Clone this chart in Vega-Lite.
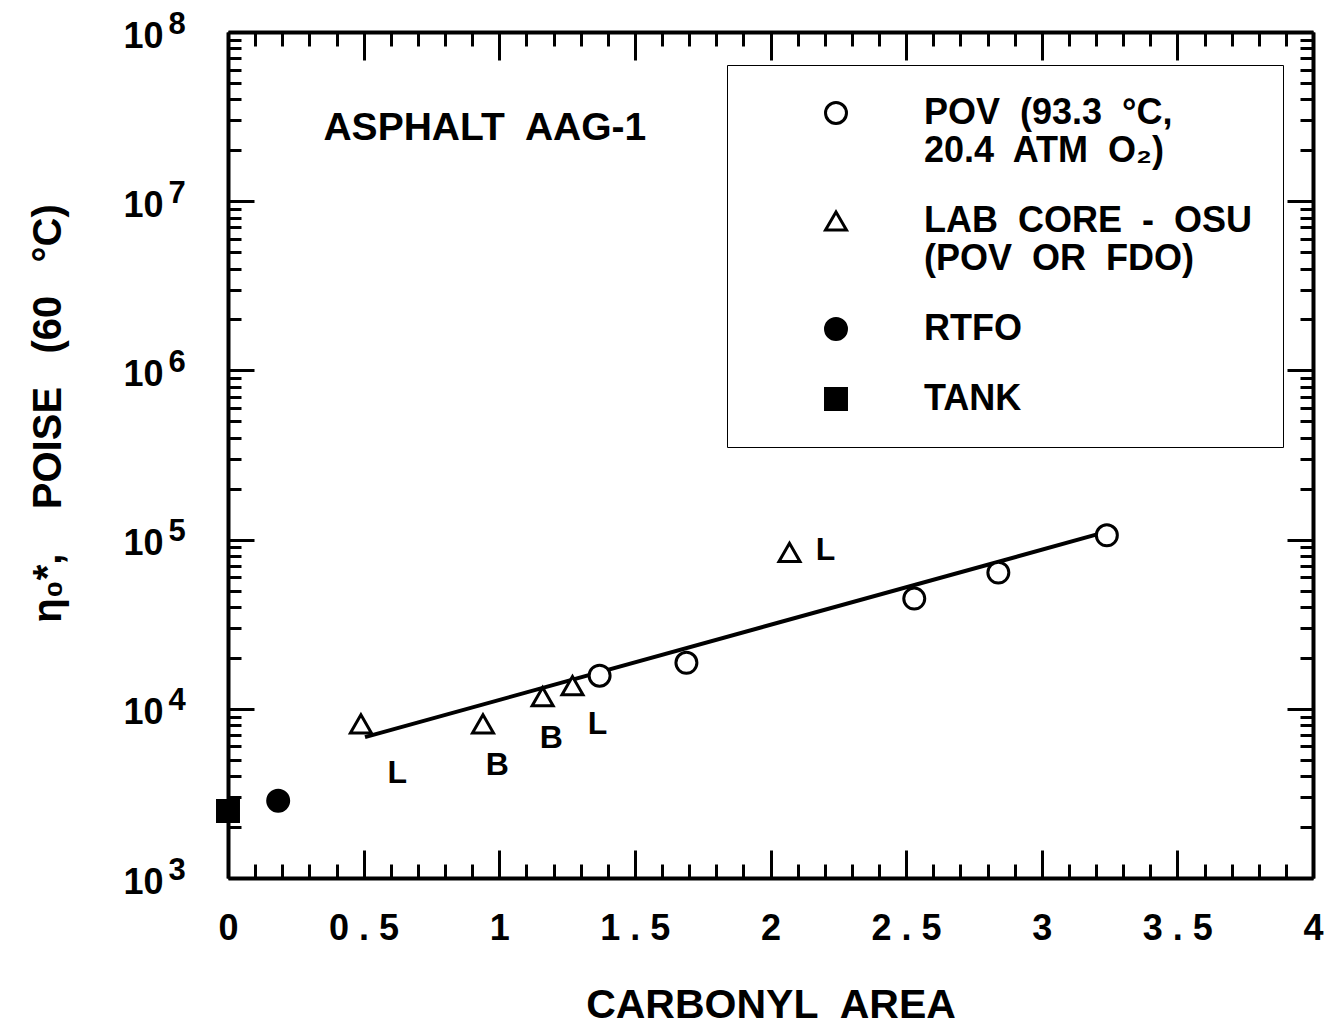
{
  "$schema": "https://vega.github.io/schema/vega-lite/v6.json",
  "width": 1085,
  "height": 846,
  "autosize": {"type": "none"},
  "padding": {"left": 228, "top": 32, "right": 19, "bottom": 148},
  "background": "white",
  "config": {"view": {"stroke": null}, "font": "Liberation Sans"},
  "datasets": {
    "points": [
      {"series": "POV", "carbonyl": 1.37, "viscosity": 15700},
      {"series": "POV", "carbonyl": 1.69, "viscosity": 18700},
      {"series": "POV", "carbonyl": 2.53, "viscosity": 44800},
      {"series": "POV", "carbonyl": 2.84, "viscosity": 63800},
      {"series": "POV", "carbonyl": 3.24, "viscosity": 106000},
      {"series": "LAB", "carbonyl": 0.49, "viscosity": 8150},
      {"series": "LAB", "carbonyl": 0.94, "viscosity": 8150},
      {"series": "LAB", "carbonyl": 1.16, "viscosity": 11800},
      {"series": "LAB", "carbonyl": 1.27, "viscosity": 13700},
      {"series": "LAB", "carbonyl": 2.07, "viscosity": 84000},
      {"series": "RTFO", "carbonyl": 0.185, "viscosity": 2860},
      {"series": "TANK", "carbonyl": 0.0, "viscosity": 2490}
    ],
    "fit": [
      {"carbonyl": 0.505, "viscosity": 6800},
      {"carbonyl": 3.237, "viscosity": 111000}
    ],
    "labels": [
      {"label": "L", "carbonyl": 0.624, "viscosity": 4180},
      {"label": "B", "carbonyl": 0.993, "viscosity": 4660},
      {"label": "B", "carbonyl": 1.192, "viscosity": 6740},
      {"label": "L", "carbonyl": 1.362, "viscosity": 8150},
      {"label": "L", "carbonyl": 2.203, "viscosity": 87300}
    ],
    "note": [
      {"label": "ASPHALT\u00a0 AAG-1", "carbonyl": 0.947, "viscosity": 27100000}
    ]
  },
  "layer": [
    {
      "data": {"name": "fit"},
      "mark": {"type": "line", "color": "black", "strokeWidth": 4},
      "encoding": {
        "x": {
          "field": "carbonyl", "type": "quantitative",
          "scale": {"domain": [0, 4], "nice": false, "zero": false},
          "axis": {
            "orient": "top", "title": null, "labels": false, "grid": false,
            "values": [0,0.1,0.2,0.3,0.4,0.5,0.6,0.7,0.8,0.9,1,1.1,1.2,1.3,1.4,1.5,1.6,1.7,1.8,1.9,2,2.1,2.2,2.3,2.4,2.5,2.6,2.7,2.8,2.9,3,3.1,3.2,3.3,3.4,3.5,3.6,3.7,3.8,3.9,4],
            "domainWidth": 4, "domainColor": "black", "tickColor": "black", "tickWidth": 3,
            "tickSize": {"condition": {"test": "abs(datum.value*2-round(datum.value*2))<1e-6", "value": -28}, "value": -14}
          }
        },
        "y": {
          "field": "viscosity", "type": "quantitative",
          "scale": {"type": "log", "domain": [1000, 100000000], "nice": false},
          "axis": {
            "orient": "right", "title": null, "labels": false, "grid": false,
            "values": [1000,2000,3000,4000,5000,6000,7000,8000,9000,10000,20000,30000,40000,50000,60000,70000,80000,90000,100000,200000,300000,400000,500000,600000,700000,800000,900000,1000000,2000000,3000000,4000000,5000000,6000000,7000000,8000000,9000000,10000000,20000000,30000000,40000000,50000000,60000000,70000000,80000000,90000000,100000000],
            "domainWidth": 4, "domainColor": "black", "tickColor": "black", "tickWidth": 3,
            "tickSize": {"condition": {"test": "abs(log(datum.value)/LN10-round(log(datum.value)/LN10))<1e-6", "value": -26}, "value": -13}
          }
        }
      }
    },
    {
      "data": {"name": "points"},
      "mark": {"type": "point", "strokeWidth": 3, "size": 440, "opacity": 1},
      "encoding": {
        "x": {
          "field": "carbonyl", "type": "quantitative",
          "axis": {
            "orient": "bottom", "grid": false,
            "values": [0,0.1,0.2,0.3,0.4,0.5,0.6,0.7,0.8,0.9,1,1.1,1.2,1.3,1.4,1.5,1.6,1.7,1.8,1.9,2,2.1,2.2,2.3,2.4,2.5,2.6,2.7,2.8,2.9,3,3.1,3.2,3.3,3.4,3.5,3.6,3.7,3.8,3.9,4],
            "domainWidth": 4, "domainColor": "black", "tickColor": "black", "tickWidth": 3,
            "tickSize": {"condition": {"test": "abs(datum.value*2-round(datum.value*2))<1e-6", "value": -28}, "value": -14},
            "labelExpr": "abs(datum.value*2-round(datum.value*2))<1e-6 ? replace(toString(datum.value), '.', ' . ') : ''",
            "labelFont": "Liberation Sans", "labelFontSize": 36, "labelFontWeight": "bold", "labelColor": "black",
            "labelPadding": 61, "labelFlush": false, "labelOverlap": false, "labelBound": false,
            "title": "CARBONYL\u00a0 AREA", "titleFont": "Liberation Sans", "titleFontSize": 41, "titleFontWeight": "bold", "titleColor": "black", "titlePadding": 25
          }
        },
        "y": {
          "field": "viscosity", "type": "quantitative",
          "axis": {
            "orient": "left", "grid": false,
            "values": [1000,2000,3000,4000,5000,6000,7000,8000,9000,10000,20000,30000,40000,50000,60000,70000,80000,90000,100000,200000,300000,400000,500000,600000,700000,800000,900000,1000000,2000000,3000000,4000000,5000000,6000000,7000000,8000000,9000000,10000000,20000000,30000000,40000000,50000000,60000000,70000000,80000000,90000000,100000000],
            "domainWidth": 4, "domainColor": "black", "tickColor": "black", "tickWidth": 3,
            "tickSize": {"condition": {"test": "abs(log(datum.value)/LN10-round(log(datum.value)/LN10))<1e-6", "value": -26}, "value": -13},
            "labelExpr": "abs(log(datum.value)/LN10-round(log(datum.value)/LN10))<1e-6 ? '10' : ''",
            "labelFont": "Liberation Sans", "labelFontSize": 36, "labelFontWeight": "bold", "labelColor": "black",
            "labelPadding": 91, "labelOffset": 4, "labelOverlap": false, "labelBound": false, "labelFlush": false,
            "title": "η₀*,\u00a0\u00a0\u00a0 POISE\u00a0\u00a0 (60\u00a0\u00a0 °C)", "titleFont": "Liberation Sans", "titleFontSize": 40, "titleFontWeight": "bold", "titleColor": "black", "titlePadding": 54,
            "titleY": 381
          }
        },
        "shape": {
          "field": "series", "type": "nominal",
          "scale": {"domain": ["POV", "LAB", "RTFO", "TANK"], "range": ["circle", "triangle-up", "circle", "square"]},
          "legend": {
            "orient": "none", "legendX": 499, "legendY": 33, "title": null,
            "strokeColor": "black", "padding": 30,
            "symbolOffset": 61, "labelOffset": 70, "symbolSize": 440, "symbolStrokeWidth": 3,
            "labelFont": "Liberation Sans", "labelFontSize": 36, "labelFontWeight": "bold", "labelColor": "black",
            "labelLimit": 600, "rowPadding": 34,
            "labelExpr": "datum.value == 'POV' ? ['POV\u00a0 (93.3\u00a0 °C,', '20.4\u00a0 ATM\u00a0 O₂)'] : datum.value == 'LAB' ? ['LAB\u00a0 CORE\u00a0 -\u00a0 OSU', '(POV\u00a0 OR\u00a0 FDO)'] : datum.value"
          }
        },
        "fill": {
          "field": "series", "type": "nominal",
          "scale": {"domain": ["POV", "LAB", "RTFO", "TANK"], "range": ["white", "white", "black", "black"]},
          "legend": {
            "orient": "none", "legendX": 499, "legendY": 33, "title": null,
            "strokeColor": "black", "padding": 30,
            "symbolOffset": 61, "labelOffset": 70, "symbolSize": 440, "symbolStrokeWidth": 3,
            "labelFont": "Liberation Sans", "labelFontSize": 36, "labelFontWeight": "bold", "labelColor": "black",
            "labelLimit": 600, "rowPadding": 34,
            "labelExpr": "datum.value == 'POV' ? ['POV\u00a0 (93.3\u00a0 °C,', '20.4\u00a0 ATM\u00a0 O₂)'] : datum.value == 'LAB' ? ['LAB\u00a0 CORE\u00a0 -\u00a0 OSU', '(POV\u00a0 OR\u00a0 FDO)'] : datum.value"
          }
        },
        "stroke": {
          "field": "series", "type": "nominal",
          "scale": {"domain": ["POV", "LAB", "RTFO", "TANK"], "range": ["black", "black", "black", "black"]},
          "legend": {
            "orient": "none", "legendX": 499, "legendY": 33, "title": null,
            "strokeColor": "black", "padding": 30,
            "symbolOffset": 61, "labelOffset": 70, "symbolSize": 440, "symbolStrokeWidth": 3,
            "labelFont": "Liberation Sans", "labelFontSize": 36, "labelFontWeight": "bold", "labelColor": "black",
            "labelLimit": 600, "rowPadding": 34,
            "labelExpr": "datum.value == 'POV' ? ['POV\u00a0 (93.3\u00a0 °C,', '20.4\u00a0 ATM\u00a0 O₂)'] : datum.value == 'LAB' ? ['LAB\u00a0 CORE\u00a0 -\u00a0 OSU', '(POV\u00a0 OR\u00a0 FDO)'] : datum.value"
          }
        }
      }
    },
    {
      "data": {"name": "labels"},
      "mark": {"type": "text", "font": "Liberation Sans", "fontWeight": "bold", "fontSize": 32, "color": "black"},
      "encoding": {
        "x": {"field": "carbonyl", "type": "quantitative", "axis": null},
        "y": {
          "field": "viscosity", "type": "quantitative",
          "axis": {
            "orient": "left", "grid": false, "title": null, "domain": false, "ticks": false, "tickSize": 0,
            "values": [1000, 10000, 100000, 1000000, 10000000, 100000000],
            "labelExpr": "toString(round(log(datum.value)/LN10))",
            "labelFont": "Liberation Sans", "labelFontSize": 31, "labelFontWeight": "bold", "labelColor": "black",
            "labelAlign": "left", "labelBaseline": "alphabetic", "labelPadding": 60, "labelOffset": 1,
            "labelOverlap": false, "labelBound": false, "labelFlush": false
          }
        },
        "text": {"field": "label"}
      }
    },
    {
      "data": {"name": "note"},
      "mark": {"type": "text", "font": "Liberation Sans", "fontWeight": "bold", "fontSize": 39, "color": "black"},
      "encoding": {
        "x": {"field": "carbonyl", "type": "quantitative", "axis": null},
        "y": {"field": "viscosity", "type": "quantitative", "axis": null},
        "text": {"field": "label"}
      }
    }
  ],
  "resolve": {"axis": {"x": "independent", "y": "independent"}}
}
